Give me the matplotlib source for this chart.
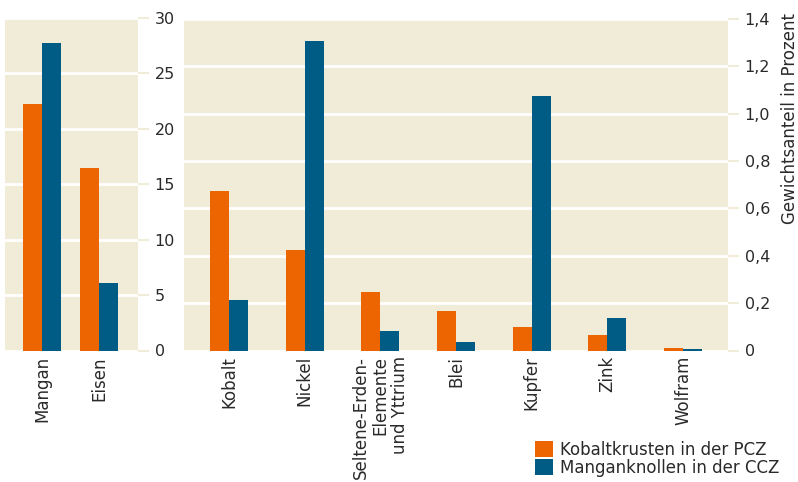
import matplotlib
matplotlib.use("Agg")
import matplotlib.pyplot as plt
from matplotlib.patches import Patch
import numpy as np

plt.rcParams['font.family'] = ['DejaVu Sans']

# Data
left_categories = ["Mangan", "Eisen"]
left_pcz = [22.2, 16.5]
left_ccz = [27.7, 6.1]

right_categories = ["Kobalt", "Nickel", "Seltene-Erden-\nElemente\nund Yttrium",
                    "Blei", "Kupfer", "Zink", "Wolfram"]
right_pcz = [0.674, 0.425, 0.247, 0.167, 0.099, 0.066, 0.011]
right_ccz = [0.213, 1.309, 0.082, 0.036, 1.076, 0.137, 0.006]

left_ticks = [0, 5, 10, 15, 20, 25, 30]
right_ticks = [0, 0.2, 0.4, 0.6, 0.8, 1.0, 1.2, 1.4]
right_ticklabels = ["0", "0,2", "0,4", "0,6", "0,8", "1,0", "1,2", "1,4"]

series_labels = ["Kobaltkrusten in der PCZ", "Manganknollen in der CCZ"]

ORANGE = "#EC6500"
BLUE = "#005C84"
BG = "#F1ECD7"
TXT = "#2a2a2a"
FS_TICK = 11.5
FS = 12

W, H = 798, 482
fig = plt.figure(figsize=(W / 100, H / 100), dpi=100)

def ax_rect(x0, x1, ytop, ybot):
    return [x0 / W, (H - ybot) / H, (x1 - x0) / W, (ybot - ytop) / H]

axL = fig.add_axes(ax_rect(5, 138, 18, 350.5))
axR = fig.add_axes(ax_rect(184, 728, 19, 350.5))

def style(ax, cats, a, b, width, xlim, ylim, ticks, ticklabels):
    x = np.arange(len(cats))
    ax.set_facecolor(BG)
    ax.bar(x - width / 2, a, width, color=ORANGE, zorder=3)
    ax.bar(x + width / 2, b, width, color=BLUE, zorder=3)
    ax.set_xlim(*xlim)
    ax.set_ylim(*ylim)
    ax.set_yticks(ticks)
    ax.set_yticklabels(ticklabels, fontsize=FS_TICK, color=TXT)
    ax.yaxis.tick_right()
    ax.tick_params(axis='y', length=8, width=1.5, color=BG, pad=4)
    ax.set_xticks(x)
    ax.set_xticklabels(cats, rotation=90, fontsize=FS, color=TXT,
                       multialignment='right', linespacing=1.1)
    ax.tick_params(axis='x', length=0, pad=4)
    for s in ax.spines.values():
        s.set_visible(False)
    ax.grid(axis='y', color='white', linewidth=2, zorder=1)
    ax.set_axisbelow(True)

style(axL, left_categories, left_pcz, left_ccz, 0.333, (-0.65, 1.68), (0, 30),
      left_ticks, [str(t) for t in left_ticks])
style(axR, right_categories, right_pcz, right_ccz, 0.25, (-0.594, 6.594), (0, 1.4),
      right_ticks, right_ticklabels)

fig.text(790 / W, (H - 13) / H, "Gewichtsanteil in Prozent", rotation=90,
         ha='center', va='top', fontsize=FS, color=TXT)

handles = [Patch(facecolor=ORANGE, edgecolor='none'), Patch(facecolor=BLUE, edgecolor='none')]
fig.legend(handles, series_labels, loc='upper left',
           bbox_to_anchor=(535 / W, (H - 441) / H), frameon=False,
           fontsize=FS, labelcolor=TXT, handlelength=1.1, handleheight=1.1,
           labelspacing=0.0, handletextpad=0.4, borderpad=0, borderaxespad=0)

fig.savefig("out.png", dpi=100, facecolor='white')
